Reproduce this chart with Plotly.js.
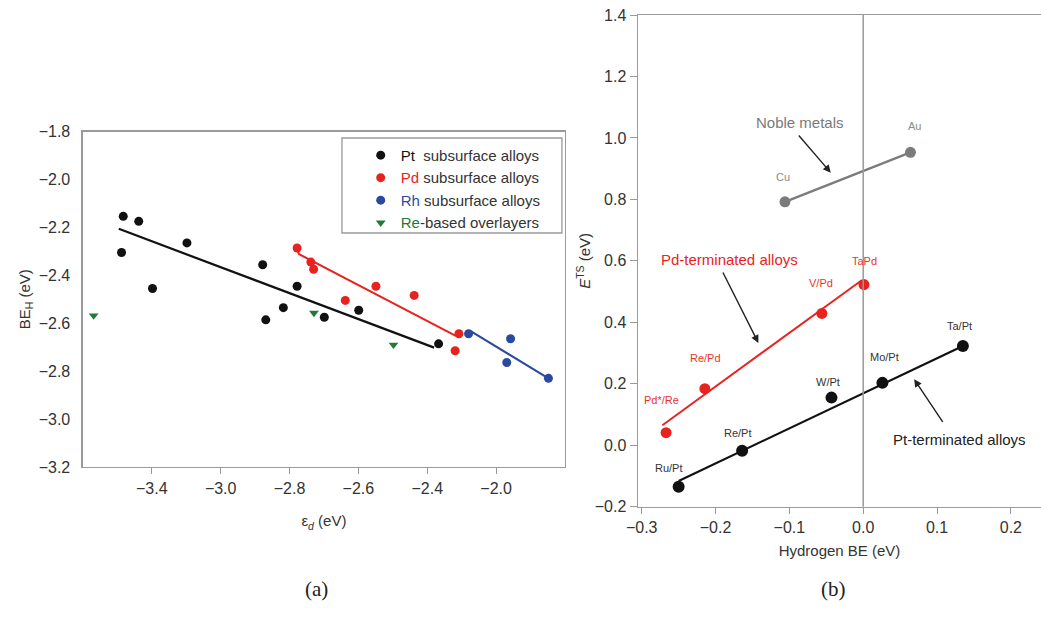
<!DOCTYPE html>
<html>
<head>
<meta charset="utf-8">
<script src="https://cdn.plot.ly/plotly-3.0.1.min.js"></script>
<style>html,body{margin:0;padding:0;background:#fff;overflow:hidden}#chart{width:1041px;height:620px}</style>
</head>
<body>
<div id="chart"></div>
<script>
// ---------- Panel (a) data ----------
const aTickVals = [-3.2, -3.0, -2.8, -2.6, -2.4, -2.2];
const aTickText = ["\u22123.4", "\u22123.0", "\u22122.8", "\u22122.6", "\u22122.4", "\u22122.0"];

const ptX = [-3.283, -3.238, -3.288, -3.198, -3.098, -2.878, -2.869, -2.818, -2.778, -2.699, -2.599, -2.367];
const ptY = [-2.154, -2.175, -2.305, -2.455, -2.265, -2.356, -2.586, -2.535, -2.446, -2.575, -2.546, -2.686];
const ptFitX = [-3.296, -2.380];
const ptFitY = [-2.206, -2.702];

const pdX = [-2.778, -2.738, -2.730, -2.638, -2.549, -2.438, -2.308, -2.319];
const pdY = [-2.286, -2.345, -2.375, -2.505, -2.446, -2.484, -2.644, -2.715];
const pdFitX = [-2.781, -2.772, -2.317];
const pdFitY = [-2.286, -2.312, -2.653];

const rhX = [-2.280, -2.158, -2.169, -2.048];
const rhY = [-2.644, -2.665, -2.764, -2.830];
const rhFitX = [-2.280, -2.274, -2.048];
const rhFitY = [-2.644, -2.633, -2.830];

const reX = [-3.369, -2.729, -2.498];
const reY = [-2.568, -2.557, -2.690];

const legendNames = [
  '<span style="color:#111">Pt</span>  subsurface alloys',
  '<span style="color:#e8231f">Pd</span> subsurface alloys',
  '<span style="color:#2a4aa0">Rh</span> subsurface alloys',
  '<span style="color:#23793a">Re</span>-based overlayers'
];

// ---------- Panel (b) data ----------
const ptTermLabels = ["Ru/Pt", "Re/Pt", "W/Pt", "Mo/Pt", "Ta/Pt"];
const ptTermX = [-0.250, -0.164, -0.043, 0.026, 0.135];
const ptTermY = [-0.135, -0.018, 0.155, 0.203, 0.323];
const ptTermFitX = [-0.250, 0.135];
const ptTermFitY = [-0.116, 0.323];

const pdTermLabels = ["Pd*/Re", "Re/Pd", "V/Pd", "TaPd"];
const pdTermX = [-0.267, -0.2145, -0.056, 0.001];
const pdTermY = [0.041, 0.184, 0.429, 0.523];
const pdTermFitX = [-0.272, -0.002];
const pdTermFitY = [0.065, 0.537];

const nobleLabels = ["Cu", "Au"];
const nobleX = [-0.106, 0.064];
const nobleY = [0.792, 0.953];

// label pixel offsets (style)
const ptTermShift = [[-10, 19], [-4, 18], [-3, 16], [2, 26], [-3, 20]];
const pdTermShift = [[-5, 33], [1, 31], [-1, 30], [1, 24]];
const nobleShift = [[-2, 25], [4, 26]];

const FONT = "'Liberation Sans', Arial, Helvetica, sans-serif";
const C_BLACK = '#111111', C_RED = '#e8231f', C_BLUE = '#2a4aa0', C_GREEN = '#23793a', C_GRAY = '#7b7b7b';

const traces = [
  {x: ptFitX, y: ptFitY, mode: 'lines', line: {color: C_BLACK, width: 2.2}, showlegend: false, xaxis: 'x', yaxis: 'y'},
  {x: pdFitX, y: pdFitY, mode: 'lines', line: {color: C_RED, width: 2}, showlegend: false, xaxis: 'x', yaxis: 'y'},
  {x: rhFitX, y: rhFitY, mode: 'lines', line: {color: C_BLUE, width: 2}, showlegend: false, xaxis: 'x', yaxis: 'y'},
  {x: ptX, y: ptY, mode: 'markers', name: legendNames[0], marker: {color: C_BLACK, size: 9}, xaxis: 'x', yaxis: 'y'},
  {x: pdX, y: pdY, mode: 'markers', name: legendNames[1], marker: {color: C_RED, size: 9}, xaxis: 'x', yaxis: 'y'},
  {x: rhX, y: rhY, mode: 'markers', name: legendNames[2], marker: {color: C_BLUE, size: 9}, xaxis: 'x', yaxis: 'y'},
  {x: reX, y: reY, mode: 'markers', name: legendNames[3], marker: {color: C_GREEN, size: 8.5, symbol: 'triangle-down'}, xaxis: 'x', yaxis: 'y'},

  {x: nobleX, y: nobleY, mode: 'lines+markers', line: {color: C_GRAY, width: 2.2}, marker: {color: C_GRAY, size: 11}, showlegend: false, xaxis: 'x2', yaxis: 'y2'},
  {x: pdTermFitX, y: pdTermFitY, mode: 'lines', line: {color: C_RED, width: 2}, showlegend: false, xaxis: 'x2', yaxis: 'y2'},
  {x: pdTermX, y: pdTermY, mode: 'markers', marker: {color: C_RED, size: 11}, showlegend: false, xaxis: 'x2', yaxis: 'y2'},
  {x: ptTermFitX, y: ptTermFitY, mode: 'lines', line: {color: C_BLACK, width: 2.2}, showlegend: false, xaxis: 'x2', yaxis: 'y2'},
  {x: ptTermX, y: ptTermY, mode: 'markers', marker: {color: C_BLACK, size: 12}, showlegend: false, xaxis: 'x2', yaxis: 'y2'}
];

const annotations = [];
function addLabels(labels, xs, ys, shifts, color) {
  labels.forEach((t, i) => annotations.push({
    x: xs[i], y: ys[i], xref: 'x2', yref: 'y2', text: t, showarrow: false,
    xshift: shifts[i][0], yshift: shifts[i][1],
    font: {family: FONT, size: 11, color: color}
  }));
}
addLabels(ptTermLabels, ptTermX, ptTermY, ptTermShift, '#333');
addLabels(pdTermLabels, pdTermX, pdTermY, pdTermShift, '#e8352a');
addLabels(nobleLabels, nobleX, nobleY, nobleShift, '#8a8a8a');

const arrowStyle = {xref: 'x2', yref: 'y2', axref: 'x2', ayref: 'y2', text: '', showarrow: true,
  arrowhead: 2, arrowsize: 1.1, arrowwidth: 1.4, arrowcolor: '#222'};

annotations.push(
  {x: -0.086, y: 1.05, xref: 'x2', yref: 'y2', text: 'Noble metals', showarrow: false, font: {family: FONT, size: 15, color: '#7a7a7a'}},
  Object.assign({x: -0.044, y: 0.887, ax: -0.089, ay: 1.013}, arrowStyle),
  {x: -0.181, y: 0.604, xref: 'x2', yref: 'y2', text: 'Pd-terminated alloys', showarrow: false, font: {family: FONT, size: 15, color: '#e8231f'}},
  Object.assign({x: -0.142, y: 0.333, ax: -0.191, ay: 0.567}, arrowStyle),
  {x: 0.130, y: 0.020, xref: 'x2', yref: 'y2', text: 'Pt-terminated alloys', showarrow: false, font: {family: FONT, size: 15, color: '#222'}},
  Object.assign({x: 0.069, y: 0.215, ax: 0.109, ay: 0.071}, arrowStyle),
  {x: 0.291, y: 0.027, xref: 'paper', yref: 'paper', text: '(a)', showarrow: false, font: {family: "'Liberation Serif', 'DejaVu Serif', serif", size: 21, color: '#222'}},
  {x: 0.8146, y: 0.027, xref: 'paper', yref: 'paper', text: '(b)', showarrow: false, font: {family: "'Liberation Serif', 'DejaVu Serif', serif", size: 21, color: '#222'}}
);

const axisCommon = {
  showgrid: false, zeroline: false, showline: true, linecolor: '#9a9a9a', linewidth: 1.5,
  tickcolor: '#9a9a9a', tickfont: {family: FONT, size: 16, color: '#333'}, automargin: false
};
const titleFont = {family: FONT, size: 15, color: '#333'};

const layout = {
  width: 1041, height: 620,
  margin: {l: 0, r: 0, t: 0, b: 0},
  paper_bgcolor: '#fff', plot_bgcolor: '#fff',
  font: {family: FONT, color: '#333'},
  showlegend: true,
  legend: {
    x: 0.3465, y: 0.776, xanchor: 'left', yanchor: 'top',
    bgcolor: 'rgba(0,0,0,0)', borderwidth: 0,
    font: {family: FONT, size: 15, color: '#333'},
    tracegroupgap: 0, itemwidth: 30
  },
  xaxis: Object.assign({}, axisCommon, {
    domain: [0.0797, 0.5427], anchor: 'y', range: [-3.4, -2.0],
    tickmode: 'array', tickvals: aTickVals, ticktext: aTickText,
    ticks: 'outside', ticklen: 6, mirror: true,
    title: {text: '\u03b5<sub><i>d</i></sub> (eV)', standoff: 20, font: titleFont}
  }),
  yaxis: Object.assign({}, axisCommon, {
    domain: [0.2468, 0.7879], anchor: 'x', range: [-3.2, -1.8],
    tickmode: 'linear', tick0: -3.2, dtick: 0.2, tickformat: '.1f',
    ticks: '', ticklabelstandoff: 8, mirror: true,
    title: {text: 'BE<sub>H</sub> (eV)', standoff: 4, font: titleFont}
  }),
  xaxis2: Object.assign({}, axisCommon, {
    domain: [0.6129, 1], anchor: 'y2', range: [-0.305, 0.2408],
    tickmode: 'linear', tick0: 0, dtick: 0.1, tickformat: '.1f',
    ticks: 'outside', ticklen: 6, mirror: true,
    title: {text: 'Hydrogen BE (eV)', standoff: 10, font: titleFont}
  }),
  yaxis2: Object.assign({}, axisCommon, {
    domain: [0.1827, 0.9758], anchor: 'x2', range: [-0.2, 1.4],
    tickmode: 'linear', tick0: -0.2, dtick: 0.2, tickformat: '.1f',
    ticks: 'outside', ticklen: 7, mirror: false,
    title: {text: '<i>E</i><sup>TS</sup> (eV)', standoff: 0, font: titleFont}
  }),
  shapes: [
    {type: 'line', xref: 'x2', yref: 'paper', x0: 0, x1: 0, y0: 0.1827, y1: 0.9758, line: {color: '#9a9a9a', width: 1.5}},
    {type: 'rect', xref: 'paper', yref: 'paper', x0: 0.3285, x1: 0.5398, y0: 0.6242, y1: 0.7774, line: {color: '#9a9a9a', width: 1.3}, fillcolor: 'rgba(0,0,0,0)'}
  ],
  annotations: annotations
};

Plotly.newPlot('chart', traces, layout, {staticPlot: true, displayModeBar: false});
</script>
</body>
</html>
